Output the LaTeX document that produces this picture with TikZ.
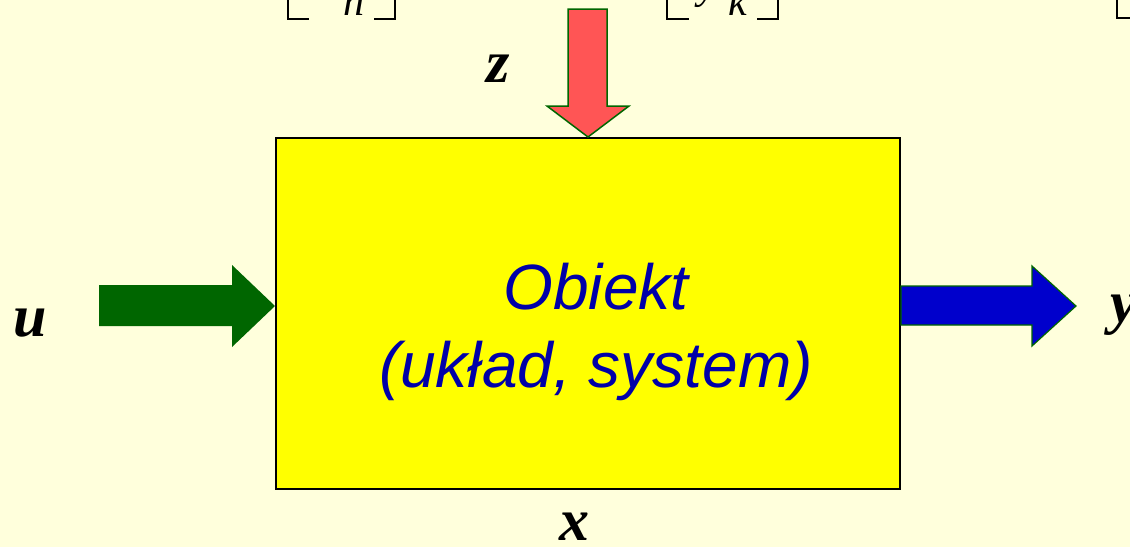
\documentclass[tikz,border=0pt]{standalone}
\usepackage{fontspec}
\newfontfamily\arialf{Liberation Sans}
\newfontfamily\timesf{Liberation Serif}
\definecolor{bgc}{HTML}{FFFFDC}
\definecolor{boxc}{HTML}{FFFF00}
\definecolor{txtc}{HTML}{0000A8}
\definecolor{greenc}{HTML}{006600}
\definecolor{bluec}{HTML}{0000CC}
\definecolor{redc}{HTML}{FF5555}
\tikzset{
  varlabel/.style={inner sep=0pt, anchor=base, font=\timesf\bfseries\itshape\fontsize{60}{60}\selectfont},
  vecel/.style={inner sep=0pt, anchor=base, font=\timesf\itshape\fontsize{42}{42}\selectfont},
  bracket/.style={line width=2.6pt, line cap=rect},
  arrowshape/.style={draw=greenc, line width=1.2pt, line join=miter},
}
\begin{document}
\begin{tikzpicture}[x=1pt,y=-1pt]
\useasboundingbox (0,0) rectangle (1130,547);
\fill[bgc] (0,0) rectangle (1130,547);
\clip (0,0) rectangle (1130,547);
% partial vectors at top
\draw[bracket] (288,-30) -- (288,19) -- (308,19);
\draw[bracket] (375,19) -- (395,19) -- (395,-30);
\node[vecel] (nel) at (354,15) {n};
\draw[bracket] (667,-30) -- (667,19) -- (688,19);
\draw[bracket] (758,19) -- (778,19) -- (778,-30);
\node[vecel] (yel) at (708,-2) {y};
\node[vecel] (kel) at (738,15) {k};
\draw[bracket] (1117,-30) -- (1117,18) -- (1140,18);
% main box
\node[draw=black, line width=2pt, fill=boxc, minimum width=624pt, minimum height=351pt, inner sep=0pt] (obj) at (588,313.5) {};
\node[align=center, text=txtc, font=\arialf\itshape\fontsize{64}{78}\selectfont, inner sep=0pt] (objtxt) at (596,332) {Obiekt\\(układ, system)};
% input arrow u
\fill[greenc] (99,285) -- (232,285) -- (232,265) -- (obj.west |- 0,306) -- (232,347) -- (232,326) -- (99,326) -- cycle;
% output arrow y
\draw[arrowshape, fill=bluec] (obj.east |- 0,286) -- (1032,286) -- (1032,266) -- (1076,306) -- (1032,346) -- (1032,325) -- (obj.east |- 0,325) -- cycle;
% disturbance arrow z
\draw[arrowshape, line width=1.5pt, fill=redc] (568,9) -- (607,9) -- (607,106) -- (629,106) -- (obj.north -| 588,0) -- (547,106) -- (568,106) -- cycle;
% labels
\node[varlabel] (ulab) at (30,336) {u};
\node[varlabel] (ylab) at (1124,322) {y};
\node[varlabel] (zlab) at (498,82) {z};
\node[varlabel] (xlab) at (574,540) {x};
\end{tikzpicture}
\end{document}
